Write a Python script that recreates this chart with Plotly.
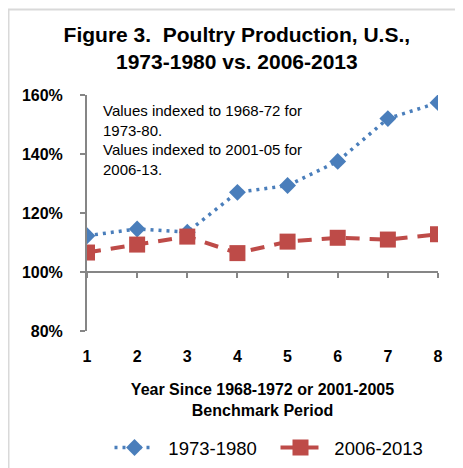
import plotly.graph_objects as go

years = [1, 2, 3, 4, 5, 6, 7, 8]
series_1973_1980 = [112.3, 114.6, 113.5, 127.0, 129.3, 137.5, 152.0, 157.4]
series_2006_2013 = [106.6, 109.3, 112.0, 106.4, 110.3, 111.6, 111.0, 112.8]
y_ticks = [80, 100, 120, 140, 160]
y_tick_labels = ["80%", "100%", "120%", "140%", "160%"]

BLUE = "#4A7EBB"
RED = "#BE4B48"
AXIS = "#868686"
FONT = "Liberation Sans, Arial, sans-serif"

W, H = 455, 460          # page has an 8px body margin
L, R, T, B = 79, 25, 87, 137
PW, PH = W - L - R, H - T - B
GAP = "\u00a0\u2009"

fig = go.Figure()
fig.add_trace(go.Scatter(
    x=years, y=series_1973_1980, name=GAP + "1973-1980", mode="lines+markers",
    line=dict(color=BLUE, width=3.5, dash="3px,5px"),
    marker=dict(symbol="diamond", size=13, color=BLUE),
))
fig.add_trace(go.Scatter(
    x=years, y=series_2006_2013, name=GAP + "2006-2013", mode="lines+markers",
    line=dict(color=RED, width=4, dash="14px,10px"),
    marker=dict(symbol="square", size=16, color=RED),
))
# axis line through 100% with tick marks
fig.add_trace(go.Scatter(x=years, y=[None] * len(years), xaxis="x2", yaxis="y",
                         showlegend=False, hoverinfo="skip"))

fig.update_layout(
    width=W, height=H,
    margin=dict(l=L, r=R, t=T, b=B),
    paper_bgcolor="white", plot_bgcolor="white",
    font=dict(family=FONT, color="black"),
    title=dict(
        text="<b>Figure 3.  Poultry Production, U.S.,<br>1973-1980 vs. 2006-2013</b>",
        font=dict(size=21, family=FONT, color="black"),
        x=0.503, xanchor="center", xref="container",
        y=1 - 34 / H, yanchor="top", yref="container",
    ),
    xaxis=dict(
        range=[1, 8], tickvals=years, ticktext=[f"<b>{v}</b>" for v in years],
        showline=False, showgrid=False, zeroline=False, ticks="", automargin=False,
        tickfont=dict(size=16, family=FONT, color="black"), ticklabelstandoff=14,
        title=dict(text="<b>Year Since 1968-1972 or 2001-2005<br>Benchmark Period</b>",
                   font=dict(size=16, family=FONT, color="black"), standoff=19),
    ),
    xaxis2=dict(
        range=[1, 8], overlaying="x", anchor="free", position=0.25,
        tickvals=years, showticklabels=False, ticks="outside", ticklen=5,
        tickwidth=2, tickcolor=AXIS, showline=True, linecolor=AXIS, linewidth=2,
        showgrid=False, zeroline=False,
    ),
    yaxis=dict(
        range=[80, 160], tickvals=y_ticks, automargin=False,
        ticktext=[f"<b>{t}</b>" for t in y_tick_labels],
        showline=True, linecolor=AXIS, linewidth=2, ticks="outside", ticklen=5,
        tickwidth=2, tickcolor=AXIS, showgrid=False, zeroline=False,
        tickfont=dict(size=16, family=FONT, color="black"), ticklabelstandoff=14,
    ),
    legend=dict(
        orientation="h", x=0.5 + 13 / PW, xanchor="center", y=1 - 440 / H,
        yanchor="middle", yref="container",
        font=dict(size=18.5, family=FONT, color="black"),
        itemwidth=40, entrywidth=111, entrywidthmode="pixels",
    ),
    annotations=[dict(
        text="Values indexed to 1968-72 for<br>1973-80.<br>Values indexed to 2001-05 for<br>2006-13.",
        xref="paper", yref="paper", x=(93 - L) / PW, y=(T + PH - 92) / PH,
        xanchor="left", yanchor="top", align="left", showarrow=False,
        font=dict(size=15, family=FONT, color="black"),
    )],
    shapes=[dict(
        type="rect", xref="paper", yref="paper",
        x0=(0.5 - L) / PW, x1=1.3, y0=-1.0, y1=(T + PH - 1.5) / PH,
        line=dict(color="#D9D9D9", width=2), fillcolor="rgba(0,0,0,0)", layer="below",
    )],
)

fig.write_html("out.html")
